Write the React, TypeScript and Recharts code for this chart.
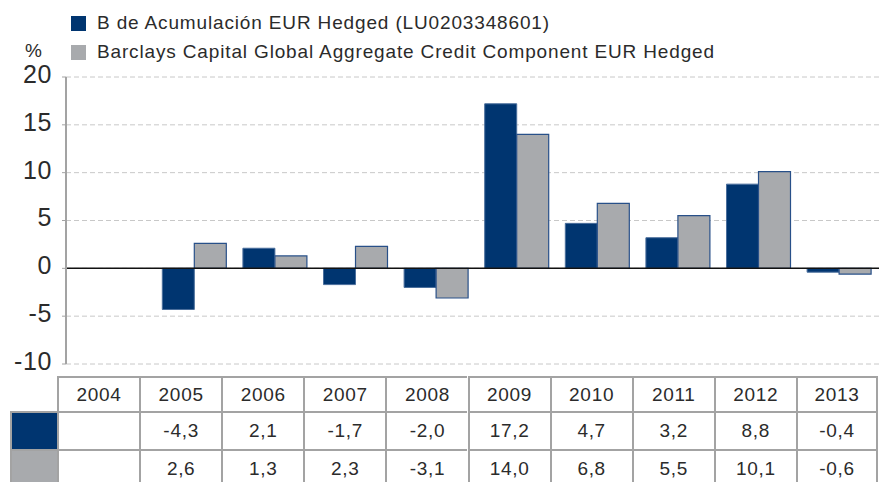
import { BarChart, Bar, XAxis, YAxis, CartesianGrid, ReferenceLine } from "recharts";

const NAVY = "#003570";
const GREY = "#a8aaad";
const TEXT = "#2b2b2b";
const LINE = "#a3a3a3";

const years = ["2004", "2005", "2006", "2007", "2008", "2009", "2010", "2011", "2012", "2013"];
const fund: (number | null)[] = [null, -4.3, 2.1, -1.7, -2.0, 17.2, 4.7, 3.2, 8.8, -0.4];
const bench: (number | null)[] = [null, 2.6, 1.3, 2.3, -3.1, 14.0, 6.8, 5.5, 10.1, -0.6];
const yTicks = [-10, -5, 0, 5, 10, 15, 20];
const seriesNames = [
  "B de Acumulación EUR Hedged (LU0203348601)",
  "Barclays Capital Global Aggregate Credit Component EUR Hedged",
];

const data = years.map((year, i) => ({ year, fund: fund[i], bench: bench[i] }));

const fmt = (v: number | null) => (v == null ? "" : v.toFixed(1).replace(".", ","));

// table geometry
const TABLE_LEFT = 10;
const SWATCH_W = 47;
const COL_W = 82.1;
const ROW_TOPS = [376, 411, 449];
const ROW_H = [35, 38, 38];

function Table() {
  const cells: any[] = [];
  const border = `2px solid ${LINE}`;
  const cellStyle = (i: number, r: number) => ({
    position: "absolute" as const,
    left: TABLE_LEFT + SWATCH_W + i * COL_W,
    top: ROW_TOPS[r],
    width: COL_W,
    height: ROW_H[r],
    borderLeft: border,
    borderTop: border,
    borderRight: i === years.length - 1 ? border : undefined,
    boxSizing: "border-box" as const,
    display: "flex",
    alignItems: "center",
    justifyContent: "center",
    letterSpacing: 0.7,
  });
  years.forEach((y, i) => {
    cells.push(
      <div key={"h" + y} style={cellStyle(i, 0)}>
        {y}
      </div>
    );
  });
  [fund, bench].forEach((row, r) => {
    cells.push(
      <div
        key={"sw" + r}
        style={{
          position: "absolute",
          left: TABLE_LEFT,
          top: ROW_TOPS[r + 1],
          width: SWATCH_W,
          height: ROW_H[r + 1],
          background: r === 0 ? NAVY : GREY,
          borderLeft: border,
          borderTop: border,
          boxSizing: "border-box",
        }}
      />
    );
    row.forEach((v, i) => {
      cells.push(
        <div key={"c" + r + i} style={cellStyle(i, r + 1)}>
          {fmt(v)}
        </div>
      );
    });
  });
  return <>{cells}</>;
}

export default function App() {
  return (
    <div
      style={{
        position: "absolute",
        left: 0,
        top: 0,
        width: 879,
        height: 482,
        overflow: "hidden",
        background: "#fff",
        fontFamily: "'Liberation Sans', Arial, sans-serif",
        color: TEXT,
        fontSize: 19,
      }}
    >
      {/* legend */}
      {seriesNames.map((name, i) => (
        <div
          key={name}
          style={{
            position: "absolute",
            left: 71,
            top: 12 + i * 29,
            display: "flex",
            alignItems: "center",
            fontSize: 19,
            letterSpacing: 0.85,
            whiteSpace: "nowrap",
          }}
        >
          <span style={{ display: "inline-block", width: 15, height: 15, background: i === 0 ? NAVY : GREY, marginRight: 11 }} />
          {name}
        </div>
      ))}
      <div style={{ position: "absolute", left: 25, top: 40, fontSize: 19 }}>%</div>

      <div style={{ position: "absolute", left: 0, top: 0 }}>
        <BarChart
          width={879}
          height={376}
          data={data}
          margin={{ top: 77, right: 0, bottom: 12, left: 0 }}
          barCategoryGap="10.8%"
          barGap={0}
        >
          <CartesianGrid vertical={false} stroke="#c8c8c8" strokeDasharray="5 3" />
          <XAxis dataKey="year" hide padding={{ left: 7, right: 0 }} />
          <YAxis
            width={66}
            domain={[-10, 20]}
            ticks={yTicks}
            interval={0}
            axisLine={{ stroke: LINE, strokeWidth: 2 }}
            tickLine={{ stroke: LINE }}
            tickSize={4}
            tickMargin={10}
            tick={{ fontSize: 25, fill: TEXT, dy: -3, letterSpacing: 0.6 }}
          />
          <Bar dataKey="fund" fill={NAVY} stroke="#4a6e9c" strokeWidth={1} isAnimationActive={false} />
          <Bar dataKey="bench" fill={GREY} stroke="#285089" strokeWidth={1.2} isAnimationActive={false} />
          <ReferenceLine y={0} stroke="#111" strokeWidth={1.5} />
        </BarChart>
      </div>

      <Table />
    </div>
  );
}
